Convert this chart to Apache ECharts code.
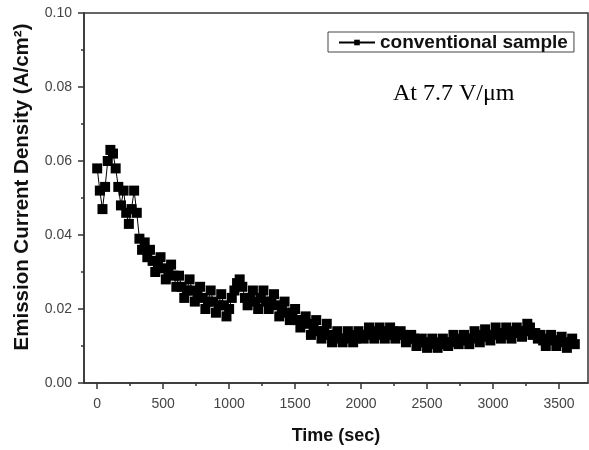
<!DOCTYPE html>
<html>
<head>
<meta charset="utf-8">
<script src="https://cdn.jsdelivr.net/npm/echarts@6/dist/echarts.min.js"></script>
<style>
  html, body { margin: 0; padding: 0; background: #fff; }
  #container { width: 589px; height: 450px; }
</style>
</head>
<body>
<div id="container"></div>
<script>
// sampling step of the measurement (sec)
const sampleStep = 20;

// emission current density (A/cm2), one value every sampleStep seconds from t = 0
// (one row = 200 sec)
const density = [
  0.058, 0.052, 0.047, 0.053, 0.060, 0.063, 0.062, 0.058, 0.053, 0.048,
  0.052, 0.046, 0.043, 0.047, 0.052, 0.046, 0.039, 0.036, 0.038, 0.034,
  0.036, 0.033, 0.030, 0.032, 0.034, 0.031, 0.028, 0.030, 0.032, 0.029,
  0.026, 0.029, 0.026, 0.023, 0.025, 0.028, 0.025, 0.022, 0.024, 0.026,
  0.023, 0.020, 0.022, 0.025, 0.022, 0.019, 0.021, 0.024, 0.021, 0.018,
  0.020, 0.023, 0.025, 0.027, 0.028, 0.026, 0.023, 0.021, 0.023, 0.025,
  0.022, 0.020, 0.023, 0.025, 0.022, 0.020, 0.022, 0.024, 0.021, 0.018,
  0.020, 0.022, 0.019, 0.017, 0.019, 0.020, 0.017, 0.015, 0.017, 0.018,
  0.016, 0.013, 0.015, 0.017, 0.014, 0.012, 0.014, 0.016, 0.013, 0.011,
  0.013, 0.014, 0.012, 0.011, 0.012, 0.014, 0.013, 0.011, 0.012, 0.014,
  0.013, 0.012, 0.013, 0.015, 0.014, 0.012, 0.013, 0.015, 0.014, 0.012,
  0.013, 0.015, 0.014, 0.012, 0.013, 0.014, 0.013, 0.011, 0.012, 0.013,
  0.012, 0.010, 0.011, 0.012, 0.011, 0.0095, 0.0105, 0.012, 0.011, 0.0095,
  0.0105, 0.012, 0.011, 0.010, 0.011, 0.013, 0.012, 0.0105, 0.0115, 0.013,
  0.012, 0.0105, 0.012, 0.014, 0.013, 0.011, 0.0125, 0.0145, 0.013, 0.0115,
  0.013, 0.015, 0.0135, 0.012, 0.013, 0.015, 0.014, 0.012, 0.0135, 0.015,
  0.014, 0.0125, 0.014, 0.016, 0.015, 0.013, 0.0135, 0.012, 0.013, 0.0115,
  0.010, 0.012, 0.013, 0.0115, 0.010, 0.0115, 0.0125, 0.011, 0.0095, 0.011,
  0.012, 0.0105
];

// tick positions on the time axis
const timeLabels = [0, 500, 1000, 1500, 2000, 2500, 3000, 3500];
const timeMinor = [250, 750, 1250, 1750, 2250, 2750, 3250];

const seriesName = 'conventional sample';
const noteText = 'At 7.7 V/\u03bcm';

let points = density.map((v, i) => [i * sampleStep, v]);

var graph = echarts.init(document.getElementById('container'));

let axisColor = '#333';
let sans = 'Liberation Sans, Arial, sans-serif';
let option = {
  animation: false,
  backgroundColor: '#fff',
  grid: {
    left: 84,
    right: 1,
    top: 13,
    bottom: 65,
    show: true,
    borderColor: axisColor,
    borderWidth: 1.5,
  },
  legend: {
    left: 328,
    top: 32,
    padding: [1, 6, 0, 10],
    borderColor: '#444',
    borderWidth: 1,
    itemWidth: 36,
    itemHeight: 7,
    itemGap: 4,
    textStyle: {
      fontFamily: sans,
      fontWeight: 'bold',
      fontSize: 19,
      color: '#111',
    },
    data: [seriesName],
  },
  xAxis: [
    {
      type: 'value',
      min: -100,
      max: 3720,
      name: 'Time (sec)',
      nameLocation: 'middle',
      nameGap: 44,
      nameTextStyle: {
        fontFamily: sans,
        fontWeight: 'bold',
        fontSize: 18,
        color: '#111',
      },
      axisLine: { onZero: false, lineStyle: { color: axisColor, width: 1.5 } },
      axisTick: {
        length: 6,
        customValues: timeLabels,
        lineStyle: { color: axisColor, width: 1.5 },
      },
      axisLabel: {
        customValues: timeLabels,
        margin: 14,
        formatter: (v) => String(v),
        fontFamily: sans,
        fontSize: 14,
        color: '#444',
      },
      splitLine: { show: false },
    },
    {
      type: 'value',
      position: 'bottom',
      min: -100,
      max: 3720,
      axisLine: { show: false, onZero: false },
      axisTick: {
        length: 3,
        customValues: timeMinor,
        lineStyle: { color: axisColor, width: 1.5 },
      },
      axisLabel: { show: false },
      splitLine: { show: false },
    },
  ],
  yAxis: {
    type: 'value',
    min: 0,
    max: 0.1,
    interval: 0.02,
    name: 'Emission Current Density (A/cm\u00b2)',
    nameLocation: 'middle',
    nameGap: 51,
    nameTextStyle: {
      fontFamily: sans,
      fontWeight: 'bold',
      fontSize: 20.5,
      color: '#111',
      padding: [0, 0, 0, 22],
    },
    axisLine: { show: true, onZero: false, lineStyle: { color: axisColor, width: 1.5 } },
    axisTick: { show: true, length: 6, lineStyle: { color: axisColor, width: 1.5 } },
    minorTick: { show: true, splitNumber: 2, length: 3, lineStyle: { color: axisColor, width: 1.5 } },
    axisLabel: {
      margin: 12,
      formatter: (v) => v.toFixed(2),
      fontFamily: sans,
      fontSize: 14,
      color: '#444',
    },
    splitLine: { show: false },
  },
  graphic: [
    {
      type: 'text',
      left: 393,
      top: 82,
      style: {
        text: noteText,
        font: '24px "Liberation Serif", "Times New Roman", serif',
        fill: '#000',
      },
    },
  ],
  series: [
    {
      name: seriesName,
      type: 'line',
      xAxisIndex: 0,
      data: points,
      symbol: 'rect',
      symbolSize: 10,
      itemStyle: { color: '#000' },
      lineStyle: { color: '#000', width: 1 },
    },
  ],
};

if (option && typeof option === 'object') {
  graph.setOption(option);
}
</script>
</body>
</html>
